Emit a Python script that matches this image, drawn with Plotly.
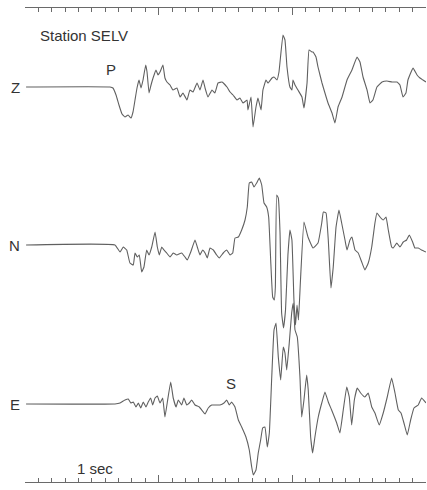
import plotly.graph_objects as go

# ---- data (time in seconds, amplitude in arbitrary units, positive up) ----
z_time = [0.008, 0.636, 0.658, 0.681, 0.703, 0.726, 0.748, 0.771, 0.793, 0.808, 0.823, 0.838, 0.853,
          0.868, 0.883, 0.903, 0.913, 0.928, 0.943, 0.958, 0.980, 0.995, 1.010, 1.032, 1.047, 1.062,
          1.085, 1.107, 1.137, 1.160, 1.182, 1.212, 1.234, 1.257, 1.287, 1.309, 1.332, 1.347, 1.369,
          1.399, 1.421, 1.444, 1.474, 1.511, 1.534, 1.556, 1.586, 1.608, 1.631, 1.661, 1.668, 1.691,
          1.706, 1.728, 1.743, 1.766, 1.780, 1.803, 1.818, 1.848, 1.863, 1.885, 1.900, 1.930, 1.945,
          1.960, 1.982, 1.997, 2.005, 2.020, 2.042, 2.072, 2.087, 2.110, 2.125, 2.147, 2.155, 2.177,
          2.192, 2.222, 2.244, 2.267, 2.297, 2.319, 2.342, 2.372, 2.409, 2.446, 2.484, 2.506, 2.529,
          2.559, 2.581, 2.603, 2.633, 2.671, 2.708, 2.746, 2.783, 2.805, 2.828, 2.850, 2.865, 2.903,
          2.933, 2.955, 2.977, 3.000]
z_amp = [0, 0, -1, -8, -18, -27, -30, -28, -31, -25, -13, -1, 7,
         -1, 7, 22, 15, -6, 2, 9, 17, 12, 15, 22, 9, 5,
         2, -3, -1, -10, -6, -13, -3, -5, 4, -3, 7, -1, -10,
         -3, -6, 4, 5, 0, -5, -8, -13, -11, -16, -13, -23, -10,
         -40, -20, -11, -23, -3, 7, 4, 9, 10, 7, 15, 52, 47,
         20, 0, -3, 7, 2, -3, -10, -21, 4, 37, 35, 35, 30,
         20, 4, -6, -16, -26, -36, -20, -10, 7, 17, 30, 25, 10,
         -3, -16, -13, 0, 5, 6, 5, 5, 2, -10, -6, 7, 19,
         12, 9, 7, 5]

n_time = [0.008, 0.673, 0.711, 0.735, 0.761, 0.785, 0.810, 0.823, 0.840, 0.855, 0.873, 0.890, 0.910,
          0.928, 0.948, 0.973, 0.990, 1.005, 1.023, 1.040, 1.060, 1.085, 1.109, 1.135, 1.172, 1.197,
          1.214, 1.240, 1.272, 1.289, 1.309, 1.329, 1.347, 1.364, 1.384, 1.409, 1.434, 1.454, 1.483,
          1.509, 1.534, 1.554, 1.571, 1.596, 1.621, 1.646, 1.663, 1.678, 1.696, 1.713, 1.733, 1.753,
          1.771, 1.788, 1.808, 1.823, 1.838, 1.853, 1.865, 1.873, 1.883, 1.895, 1.908, 1.920, 1.934,
          1.949, 1.967, 1.982, 1.997, 2.012, 2.024, 2.035, 2.046, 2.061, 2.087, 2.117, 2.155, 2.192,
          2.220, 2.232, 2.252, 2.269, 2.289, 2.306, 2.327, 2.349, 2.369, 2.394, 2.409, 2.431, 2.446,
          2.469, 2.493, 2.519, 2.543, 2.568, 2.594, 2.618, 2.633, 2.656, 2.680, 2.701, 2.718, 2.743,
          2.755, 2.781, 2.805, 2.830, 2.855, 2.875, 2.900, 2.917, 2.942, 2.967, 3.000]
n_amp = [0, 0, -7, -2, -5, -18, -20, -8, -12, -10, -27, -22, -5,
         -10, -2, 13, -2, -10, -2, -5, -8, -12, -8, -10, -8, -12,
         -15, -7, 5, -2, -10, -5, -8, -13, -3, -5, -10, -13, -8,
         -5, -10, -8, 7, 8, 15, 25, 38, 62, 63, 58, 62, 67,
         60, 42, 38, 28, -15, -52, -55, -42, 50, 47, 12, -68, -83,
         -65, -10, 15, 5, -55, -80, -60, -75, -35, 23, 8, -3, 2,
         22, 33, 32, 5, -43, -22, 18, 35, 22, 5, -5, 5, 8,
         -5, -8, -17, -25, -18, -2, 22, 32, 28, 25, 28, 15, -2,
         -3, 2, -2, 3, 5, 10, 3, -3, -3, -5, -7]

e_time = [0.008, 0.673, 0.711, 0.748, 0.773, 0.791, 0.810, 0.830, 0.848, 0.866, 0.885, 0.905, 0.922,
          0.940, 0.955, 0.973, 0.990, 1.010, 1.030, 1.047, 1.065, 1.090, 1.109, 1.130, 1.147, 1.172,
          1.189, 1.210, 1.229, 1.247, 1.272, 1.304, 1.322, 1.347, 1.371, 1.397, 1.429, 1.459, 1.489,
          1.509, 1.528, 1.546, 1.571, 1.596, 1.621, 1.653, 1.678, 1.696, 1.708, 1.728, 1.745, 1.763,
          1.778, 1.795, 1.813, 1.828, 1.846, 1.863, 1.878, 1.895, 1.913, 1.932, 1.945, 1.958, 1.977,
          1.995, 2.007, 2.020, 2.037, 2.057, 2.070, 2.087, 2.107, 2.119, 2.137, 2.152, 2.169, 2.194,
          2.220, 2.244, 2.269, 2.294, 2.332, 2.356, 2.381, 2.407, 2.426, 2.444, 2.464, 2.486, 2.511,
          2.543, 2.568, 2.594, 2.618, 2.650, 2.680, 2.710, 2.743, 2.768, 2.793, 2.813, 2.835, 2.860,
          2.885, 2.910, 2.942, 2.967, 3.000]
e_amp = [0, 0, 1, 4, 5, 1, 2, -3, 1, -4, 2, -3, 2,
         6, -1, 6, 8, 1, 6, -13, 2, 22, 6, -3, 4, -1,
         6, -1, 1, 4, -1, -3, -6, -10, -4, -1, -1, -1, 1,
         4, -1, 2, -3, -16, -23, -33, -46, -63, -71, -66, -49, -36,
         -24, -23, -43, -29, 27, 74, 81, 47, 24, 57, 51, 34, 61,
         91, 101, 74, 67, 27, -13, 4, 29, 14, -33, -49, -33, -13,
         1, 12, 2, -6, -19, -29, -6, 17, 7, -21, 4, 16, 11,
         7, 11, -3, -9, -21, -9, 7, 26, 11, -6, -9, -19, -31,
         -16, -4, -1, 6, 1]

channel_names = ["Z", "N", "E"]
station = "Station SELV"
phase_labels = ["P", "S"]
scale_label = "1 sec"

# ---- layout constants ----
W, H = 427, 490
trace_offsets = {"Z": -87, "N": -245, "E": -404}
line_color = "#606060"
text_color = "#333333"
font_family = "Liberation Sans, Arial, sans-serif"
fs = 15

fig = go.Figure()
series = {"Z": (z_time, z_amp), "N": (n_time, n_amp), "E": (e_time, e_amp)}
for name in channel_names:
    t, a = series[name]
    off = trace_offsets[name]
    fig.add_trace(go.Scatter(
        x=t, y=[off + v for v in a], mode="lines",
        line=dict(color=line_color, width=1.1, shape="spline", smoothing=0.3),
        hoverinfo="skip", showlegend=False, name=name))

annos = []
for name in channel_names:
    annos.append(dict(x=0, y=trace_offsets[name], text=name, xref="paper", yref="y",
                      showarrow=False, font=dict(size=fs, color=text_color, family=font_family),
                      xanchor="right", yanchor="middle", xshift=-3))
annos += [
    dict(x=0.44, y=-35, text=station, xref="x", yref="y", showarrow=False,
         font=dict(size=fs, color=text_color, family=font_family), xanchor="center", yanchor="middle"),
    dict(x=0.643, y=-69.5, text=phase_labels[0], xref="x", yref="y", showarrow=False,
         font=dict(size=fs, color=text_color, family=font_family), xanchor="center", yanchor="middle"),
    dict(x=1.541, y=-383, text=phase_labels[1], xref="x", yref="y", showarrow=False,
         font=dict(size=fs, color=text_color, family=font_family), xanchor="center", yanchor="middle"),
    dict(x=0.52, y=-468.5, text=scale_label, xref="x", yref="y", showarrow=False,
         font=dict(size=fs, color=text_color, family=font_family), xanchor="center", yanchor="middle"),
]

fig.update_layout(
    width=W, height=H,
    margin=dict(l=25, r=1, t=8, b=8),
    paper_bgcolor="white", plot_bgcolor="white",
    annotations=annos,
    xaxis=dict(range=[0, 3], showgrid=False, zeroline=False, showticklabels=False,
               showline=True, linecolor="#6a6a6a", linewidth=1, mirror="ticks",
               ticks="inside", tickvals=[0, 1, 2, 3], ticklen=7, tickcolor="#6a6a6a", tickwidth=1,
               minor=dict(dtick=0.1, ticks="inside", ticklen=4, tickcolor="#6a6a6a", tickwidth=1,
                          showgrid=False)),
    yaxis=dict(range=[-482, -8], visible=False, showgrid=False, zeroline=False),
)

fig.write_html("out.html", config={"displayModeBar": False, "staticPlot": True},
               post_script="document.body.style.margin='0';")
